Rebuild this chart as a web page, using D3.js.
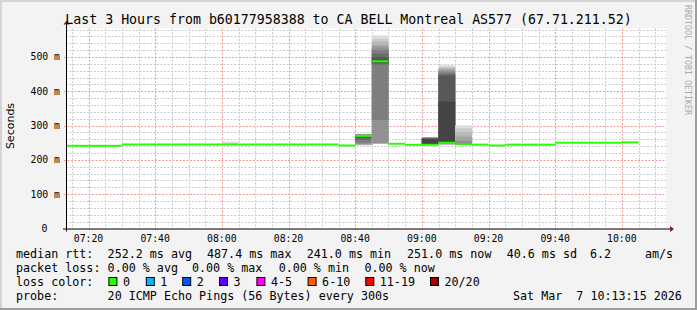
<!DOCTYPE html>
<html><head><meta charset="utf-8">
<script src="https://cdn.jsdelivr.net/npm/d3@7"></script>
<style>
body{margin:0;background:#f3f3f3;}
svg{display:block;}
text{white-space:pre;}
</style>
</head><body>
<svg id="c" width="697" height="310"></svg>
<script>
// ---------- data ----------
const bucketEnds = ["07:15","07:20","07:25","07:30","07:35","07:40","07:45","07:50","07:55","08:00",
  "08:05","08:10","08:15","08:20","08:25","08:30","08:35","08:40","08:45","08:50",
  "08:55","09:00","09:05","09:10","09:15","09:20","09:25","09:30","09:35","09:40",
  "09:45","09:50","09:55","10:00","10:05"];
const medianRtt = [241,241,241,241,245,245,245,245,245,245,
  245,245,245,245,245,245,245,242,270,487.4,
  247,244,244,250,246,244.5,242,244.5,244.5,244.5,
  250,250,250,250,251];
const smokeEnds = ["08:05","08:45","08:50","09:05","09:10","09:15"];
const smokePings = [
  [244,244,244,245,245,245,245,245,245,245,245,245,245,245,245,245,246,246,246,253],
  [242,243,244,245,246,250,258,264,268,269,271,272,272,273,273,274,274,274,275,276],
  [246,247,248,248,249,317,478,482,484,486,489,492,500,510,520,528,535,545,553,563],
  [242,243,243,243,244,244,244,244,244,244,244,260,262,263,264,265,265,266,266,267],
  [243,244,245,246,247,248,249,249,250,250,252,370,446,450,455,460,464,468,472,476],
  [244,245,245,246,246,246,246,247,247,247,247,248,248,249,250,255,268,281,292,301]
];
const yTicks = [0,100,200,300,400,500];
const yTickLabels = ["0","100 m","200 m","300 m","400 m","500 m"];
const xTickLabels = ["07:20","07:40","08:00","08:20","08:40","09:00","09:20","09:40","10:00"];
const titleText = "Last 3 Hours from b60177958388 to CA BELL Montreal AS577 (67.71.211.52)";
const rttStats = ["252.2 ms avg","487.4 ms max","241.0 ms min","251.0 ms now","40.6 ms sd","6.2","am/s"];
const lossStats = ["0.00 % avg","0.00 % max","0.00 % min","0.00 % now"];
const lossLabels = ["0","1","2","3","4-5","6-10","11-19","20/20"];
const lossColors = ["#26ff00","#00b8ff","#0059ff","#5e00ff","#ff00f0","#ff5e00","#ff0000","#a10000"];
const probeText = "20 ICMP Echo Pings (56 Bytes) every 300s";
const stampText = "Sat Mar  7 10:13:15 2026";
const startTime = "07:13:15", endTime = "10:13:15";

// ---------- helpers ----------
function t(s){const p=s.split(":").map(Number);return new Date(2026,2,7,p[0],p[1],p[2]||0);}
const mono = "'DejaVu Sans Mono', 'Liberation Mono', monospace";

const svg = d3.select("#c");
const W=697,H=310;
const L=66,R=666,T=28.5,B=228.5;

// background + 3D border
svg.append("rect").attr("width",W).attr("height",H).attr("fill","#f3f3f3");
svg.append("rect").attr("x",0).attr("y",0).attr("width",W).attr("height",2).attr("fill","#d4d4d4");
svg.append("rect").attr("x",0).attr("y",0).attr("width",2).attr("height",H).attr("fill","#d4d4d4");
svg.append("rect").attr("x",W-2).attr("y",0).attr("width",2).attr("height",H).attr("fill","#9e9e9e");
svg.append("rect").attr("x",0).attr("y",H-2).attr("width",W).attr("height",2).attr("fill","#9e9e9e");

// canvas
svg.append("rect").attr("x",L).attr("y",T).attr("width",R-L).attr("height",B-T).attr("fill","#ffffff");

const x = d3.scaleTime().domain([t(startTime),t(endTime)]).range([L,R]);
const y = d3.scaleLinear().domain([0,583]).range([B,T]);

// grid
const g = svg.append("g");
const minorX = d3.timeMinute.every(5).range(t(startTime),t(endTime));
const majorX = d3.timeMinute.every(20).range(t(startTime),t(endTime));
g.selectAll(".mx").data(minorX.filter(d=>d.getMinutes()%20!==0)).enter().append("line")
  .attr("x1",d=>Math.round(x(d))+0.5).attr("x2",d=>Math.round(x(d))+0.5).attr("y1",T).attr("y2",B)
  .attr("stroke","#cccccc").attr("stroke-dasharray","2,1.5");
const minorY = d3.range(0,584,20).filter(v=>v%100!==0);
g.selectAll(".my").data(minorY).enter().append("line")
  .attr("x1",L).attr("x2",R).attr("y1",d=>Math.round(y(d))+0.5).attr("y2",d=>Math.round(y(d))+0.5)
  .attr("stroke","#cccccc").attr("stroke-dasharray","2,1.5");
g.selectAll(".Mx").data(majorX).enter().append("line")
  .attr("x1",d=>Math.round(x(d))+0.5).attr("x2",d=>Math.round(x(d))+0.5).attr("y1",T).attr("y2",B+2)
  .attr("stroke","#f09a9a").attr("stroke-dasharray","2,1.5");
g.selectAll(".My").data(yTicks.slice(1)).enter().append("line")
  .attr("x1",L-2).attr("x2",R).attr("y1",d=>Math.round(y(d))+0.5).attr("y2",d=>Math.round(y(d))+0.5)
  .attr("stroke","#f09a9a").attr("stroke-dasharray","2,1.5");

// smoke
const STEP = 5*60*1000;
const sm = svg.append("g");
smokeEnds.forEach((e,k)=>{
  const pings = smokePings[k];
  const end = t(e), st = new Date(Math.max(end-STEP, +t(startTime)));
  const half = pings.length/2;
  for(let ib=1; ib<=half; ib++){
    const it = pings.length+1-ib;
    const c = Math.floor(190/half*(half-ib))+50;
    const hex = "#"+c.toString(16).padStart(2,"0").repeat(3);
    const y1 = y(pings[it-1]), y2 = y(pings[ib-1]);
    sm.append("rect").attr("x",x(st)).attr("width",x(end)-x(st))
      .attr("y",y1).attr("height",Math.max(0,y2-y1)).attr("fill",hex);
  }
});

// median
const md = svg.append("g");
md.selectAll("rect").data(bucketEnds.map((e,i)=>({e:t(e),v:medianRtt[i]}))).enter().append("rect")
  .attr("x",d=>x(new Date(Math.max(d.e-STEP,+t(startTime)))))
  .attr("width",d=>x(d.e)-x(new Date(Math.max(d.e-STEP,+t(startTime)))))
  .attr("y",d=>y(d.v)-1).attr("height",2).attr("fill","#26ff00");

// axes lines
svg.append("line").attr("x1",L-3).attr("x2",R+5).attr("y1",B+0.5).attr("y2",B+0.5).attr("stroke","#000");
svg.append("line").attr("x1",L+0.5).attr("x2",L+0.5).attr("y1",B+3).attr("y2",T-5).attr("stroke","#000");
svg.append("path").attr("d",`M${R+4},${B-2.5} L${R+8},${B+0.5} L${R+4},${B+3.5} Z`).attr("fill","#8b1a1a");
svg.append("path").attr("d",`M${L-2.5},${T-4} L${L+0.5},${T-8} L${L+3.5},${T-4} Z`).attr("fill","#8b1a1a");

// tick labels
svg.selectAll(".yl").data(yTicks).enter().append("text")
  .attr("x",(d,i)=>i===0?47.5:60).attr("y",d=>y(d)+3.5).attr("text-anchor","end")
  .attr("font-family",mono).attr("font-size","9.8px").attr("fill","#000")
  .text((d,i)=>yTickLabels[i]);
const xt = d3.timeMinute.every(20).range(t(startTime),t(endTime));
svg.selectAll(".xl").data(xt).enter().append("text")
  .attr("x",d=>x(d)).attr("y",242).attr("text-anchor","middle")
  .attr("font-family",mono).attr("font-size","9.8px").attr("fill","#000")
  .text((d,i)=>xTickLabels[i]);

// title
svg.append("text").attr("x",348.5).attr("y",23.5).attr("text-anchor","middle")
  .attr("font-family",mono).attr("font-size","13.25px").attr("fill","#000").text(titleText);

// y label
svg.append("text").attr("transform","translate(14,126) rotate(-90)").attr("text-anchor","middle")
  .attr("font-family","'DejaVu Sans', sans-serif").attr("font-size","11px").attr("fill","#000").text("Seconds");

// watermark
svg.append("text").attr("transform","translate(684.5,5) rotate(90)").attr("text-anchor","start")
  .attr("font-family",mono).attr("font-size","8.3px").attr("fill","#aaaaaa").text("RRDTOOL / TOBI OETIKER");

// legend
const lf = "11.7px";
function lt(xp,yp,s){svg.append("text").attr("x",xp).attr("y",yp).attr("font-family",mono).attr("font-size",lf).attr("fill","#000").text(s);}
lt(16,258,"median rtt:");
[107.6,207,306.7,407,506.7,590,645].forEach((xp,i)=>lt(xp,258,rttStats[i]));
lt(16,272,"packet loss:");
[107.6,192,278.7,364.4].forEach((xp,i)=>lt(xp,272,lossStats[i]));
lt(16,286,"loss color:");
[108.4,145.8,182.2,219,256.4,307.6,365.3,430].forEach((xp,i)=>{
  svg.append("rect").attr("x",xp+0.5).attr("y",277.5).attr("width",8).attr("height",8)
    .attr("fill",lossColors[i]).attr("stroke","#000").attr("stroke-width",1);
  lt(xp+14.5,286,lossLabels[i]);
});
lt(16,300,"probe:");
lt(107.6,300,probeText);
lt(513,300,stampText);
</script>
</body></html>
